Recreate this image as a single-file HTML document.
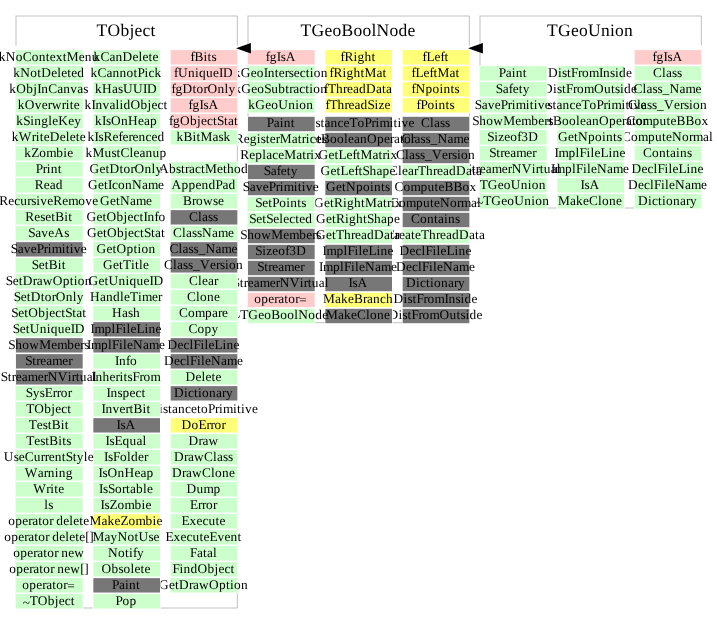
<!DOCTYPE html>
<html><head><meta charset="utf-8"><title>TGeoUnion inheritance</title>
<style>
html,body{margin:0;padding:0;background:#fff;}
svg{display:block;}
text{font-family:"Liberation Serif",serif;fill:#000;text-rendering:geometricPrecision;}
.c{font-size:13.33px;}
.t{font-size:17.5px;}
.b{fill:none;stroke:#c0c0c0;stroke-width:1;}
</style></head><body>
<svg width="717" height="624" viewBox="0 0 717 624">
<rect width="717" height="624" fill="#fff"/>
<rect class="b" x="16" y="16" width="221.33" height="592"/>
<rect fill="#fff" x="15" y="45.6" width="223.33" height="4.5"/>
<rect class="b" x="248" y="16" width="221.33" height="306.67"/>
<rect fill="#fff" x="247" y="45.6" width="223.33" height="4.5"/>
<rect class="b" x="480" y="16" width="221.33" height="192"/>
<rect fill="#fff" x="479" y="45.6" width="223.33" height="4.5"/>
<text class="t" x="96.57 107.57 120.57 129.57 134.57 142.57 150.57" y="36">TObject</text>
<text class="t" x="300.57 311.57 324.57 332.57 341.57 353.57 362.57 371.57 376.57 389.57 398.57 407.57" y="36">TGeoBoolNode</text>
<text class="t" x="547.07 558.07 571.07 579.07 588.07 601.07 610.07 615.07 624.07" y="36">TGeoUnion</text>
<rect fill="#fff" x="633.92" y="193.38" width="68.17" height="15.9"/>
<rect fill="#ccffcc" x="634.67" y="194.13" width="66.67" height="14.4"/>
<text class="c" x="637.9 647.9 651.9 657.9 661.9 665.9 672.9 679.9 685.9 689.9" y="205">Dictionary</text>
<rect fill="#fff" x="633.92" y="177.38" width="68.17" height="15.9"/>
<rect fill="#ccffcc" x="634.67" y="178.13" width="66.67" height="14.4"/>
<text class="c" x="627.9 637.9 643.9 649.9 653.9 660.9 664.9 668.9 674.9 684.9 690.9 700.9" y="189">DeclFileName</text>
<rect fill="#fff" x="633.92" y="161.38" width="68.17" height="15.9"/>
<rect fill="#ccffcc" x="634.67" y="162.13" width="66.67" height="14.4"/>
<text class="c" x="631.4 641.4 647.4 653.4 657.4 664.4 668.4 672.4 678.4 686.4 690.4 697.4" y="173">DeclFileLine</text>
<rect fill="#fff" x="633.92" y="145.38" width="68.17" height="15.9"/>
<rect fill="#ccffcc" x="634.67" y="146.13" width="66.67" height="14.4"/>
<text class="c" x="642.9 651.9 658.9 665.9 669.9 675.9 679.9 686.9" y="157">Contains</text>
<rect fill="#fff" x="633.92" y="129.38" width="68.17" height="15.9"/>
<rect fill="#ccffcc" x="634.67" y="130.13" width="66.67" height="14.4"/>
<text class="c" x="621.9 630.9 637.9 647.9 654.9 661.9 665.9 671.9 681.9 688.9 692.9 702.9 708.9" y="141">ComputeNormal</text>
<rect fill="#fff" x="633.92" y="113.38" width="68.17" height="15.9"/>
<rect fill="#ccffcc" x="634.67" y="114.13" width="66.67" height="14.4"/>
<text class="c" x="626.4 635.4 642.4 652.4 659.4 666.4 670.4 676.4 685.4 694.4 701.4" y="125">ComputeBBox</text>
<rect fill="#fff" x="633.92" y="97.38" width="68.17" height="15.9"/>
<rect fill="#ccffcc" x="634.67" y="98.13" width="66.67" height="14.4"/>
<text class="c" x="627.9 636.9 640.9 646.9 651.9 656.9 663.9 673.9 679.9 683.9 688.9 692.9 699.9" y="109">Class_Version</text>
<rect fill="#fff" x="633.92" y="81.38" width="68.17" height="15.9"/>
<rect fill="#ccffcc" x="634.67" y="82.13" width="66.67" height="14.4"/>
<text class="c" x="633.4 642.4 646.4 652.4 657.4 662.4 669.4 679.4 685.4 695.4" y="93">Class_Name</text>
<rect fill="#fff" x="633.92" y="65.38" width="68.17" height="15.9"/>
<rect fill="#ccffcc" x="634.67" y="66.13" width="66.67" height="14.4"/>
<text class="c" x="652.9 661.9 665.9 671.9 676.9" y="77">Class</text>
<rect fill="#fff" x="633.92" y="49.38" width="68.17" height="15.9"/>
<rect fill="#ffcccc" x="634.67" y="50.13" width="66.67" height="14.4"/>
<text class="c" x="652.4 656.4 663.4 667.4 672.4" y="61">fgIsA</text>
<rect fill="#fff" x="556.58" y="193.38" width="68.17" height="15.9"/>
<rect fill="#ccffcc" x="557.33" y="194.13" width="66.67" height="14.4"/>
<text class="c" x="558.07 570.07 576.07 583.07 589.07 598.07 602.07 609.07 616.07" y="205">MakeClone</text>
<rect fill="#fff" x="556.58" y="177.38" width="68.17" height="15.9"/>
<rect fill="#ccffcc" x="557.33" y="178.13" width="66.67" height="14.4"/>
<text class="c" x="580.57 584.57 589.57" y="189">IsA</text>
<rect fill="#fff" x="556.58" y="161.38" width="68.17" height="15.9"/>
<rect fill="#ccffcc" x="557.33" y="162.13" width="66.67" height="14.4"/>
<text class="c" x="551.07 555.07 565.07 572.07 576.07 583.07 587.07 591.07 597.07 607.07 613.07 623.07" y="173">ImplFileName</text>
<rect fill="#fff" x="556.58" y="145.38" width="68.17" height="15.9"/>
<rect fill="#ccffcc" x="557.33" y="146.13" width="66.67" height="14.4"/>
<text class="c" x="554.57 558.57 568.57 575.57 579.57 586.57 590.57 594.57 600.57 608.57 612.57 619.57" y="157">ImplFileLine</text>
<rect fill="#fff" x="556.58" y="129.38" width="68.17" height="15.9"/>
<rect fill="#ccffcc" x="557.33" y="130.13" width="66.67" height="14.4"/>
<text class="c" x="558.07 568.07 574.07 578.07 588.07 595.07 602.07 606.07 613.07 617.07" y="141">GetNpoints</text>
<rect fill="#fff" x="556.58" y="113.38" width="68.17" height="15.9"/>
<rect fill="#ccffcc" x="557.33" y="114.13" width="66.67" height="14.4"/>
<text class="c" x="533.07 543.07 549.07 553.07 562.07 569.07 576.07 580.07 586.07 592.07 599.07 609.07 616.07 622.07 626.07 632.07 636.07 643.07" y="125">GetBooleanOperator</text>
<rect fill="#fff" x="556.58" y="97.38" width="68.17" height="15.9"/>
<rect fill="#ccffcc" x="557.33" y="98.13" width="66.67" height="14.4"/>
<text class="c" x="533.57 543.57 547.57 552.57 556.57 562.57 569.57 575.57 581.57 589.57 596.57 603.57 607.57 611.57 621.57 625.57 629.57 633.57 640.57" y="109">DistanceToPrimitive</text>
<rect fill="#fff" x="556.58" y="81.38" width="68.17" height="15.9"/>
<rect fill="#ccffcc" x="557.33" y="82.13" width="66.67" height="14.4"/>
<text class="c" x="543.07 553.07 557.07 562.07 566.07 573.07 577.07 584.07 594.07 604.07 611.07 615.07 620.07 624.07 631.07" y="93">DistFromOutside</text>
<rect fill="#fff" x="556.58" y="65.38" width="68.17" height="15.9"/>
<rect fill="#ccffcc" x="557.33" y="66.13" width="66.67" height="14.4"/>
<text class="c" x="548.07 558.07 562.07 567.07 571.07 578.07 582.07 589.07 599.07 603.07 610.07 615.07 619.07 626.07" y="77">DistFromInside</text>
<rect fill="#fff" x="479.25" y="193.38" width="68.17" height="15.9"/>
<rect fill="#ccffcc" x="480" y="194.13" width="66.67" height="14.4"/>
<text class="c" x="476.23 483.23 491.23 501.23 507.23 514.23 524.23 531.23 535.23 542.23" y="206.6 205 205 205 205 205 205 205 205 205">~TGeoUnion</text>
<rect fill="#fff" x="479.25" y="177.38" width="68.17" height="15.9"/>
<rect fill="#ccffcc" x="480" y="178.13" width="66.67" height="14.4"/>
<text class="c" x="479.73 487.73 497.73 503.73 510.73 520.73 527.73 531.73 538.73" y="189">TGeoUnion</text>
<rect fill="#fff" x="479.25" y="161.38" width="68.17" height="15.9"/>
<rect fill="#ccffcc" x="480" y="162.13" width="66.67" height="14.4"/>
<text class="c" x="464.73 471.73 475.73 479.73 485.73 491.73 501.73 507.73 511.73 521.73 531.73 535.73 539.73 543.73 550.73 556.73" y="173">StreamerNVirtual</text>
<rect fill="#fff" x="479.25" y="145.38" width="68.17" height="15.9"/>
<rect fill="#ccffcc" x="480" y="146.13" width="66.67" height="14.4"/>
<text class="c" x="489.23 496.23 500.23 504.23 510.23 516.23 526.23 532.23" y="157">Streamer</text>
<rect fill="#fff" x="479.25" y="129.38" width="68.17" height="15.9"/>
<rect fill="#ccffcc" x="480" y="130.13" width="66.67" height="14.4"/>
<text class="c" x="487.23 494.23 498.23 504.23 510.23 517.23 521.23 528.23" y="141">Sizeof3D</text>
<rect fill="#fff" x="479.25" y="113.38" width="68.17" height="15.9"/>
<rect fill="#ccffcc" x="480" y="114.13" width="66.67" height="14.4"/>
<text class="c" x="472.23 479.23 486.23 493.23 503.23 515.23 521.23 531.23 538.23 544.23 548.23" y="125">ShowMembers</text>
<rect fill="#fff" x="479.25" y="97.38" width="68.17" height="15.9"/>
<rect fill="#ccffcc" x="480" y="98.13" width="66.67" height="14.4"/>
<text class="c" x="474.73 481.73 487.73 494.73 500.73 507.73 511.73 515.73 525.73 529.73 533.73 537.73 544.73" y="109">SavePrimitive</text>
<rect fill="#fff" x="479.25" y="81.38" width="68.17" height="15.9"/>
<rect fill="#ccffcc" x="480" y="82.13" width="66.67" height="14.4"/>
<text class="c" x="495.73 502.73 508.73 512.73 518.73 522.73" y="93">Safety</text>
<rect fill="#fff" x="479.25" y="65.38" width="68.17" height="15.9"/>
<rect fill="#ccffcc" x="480" y="66.13" width="66.67" height="14.4"/>
<text class="c" x="498.73 505.73 511.73 515.73 522.73" y="77">Paint</text>
<rect fill="#fff" x="401.92" y="308.05" width="68.17" height="15.9"/>
<rect fill="#777777" x="402.67" y="308.8" width="66.67" height="14.4"/>
<text class="c" x="388.4 398.4 402.4 407.4 411.4 418.4 422.4 429.4 439.4 449.4 456.4 460.4 465.4 469.4 476.4" y="319">DistFromOutside</text>
<rect fill="#fff" x="401.92" y="292.05" width="68.17" height="15.9"/>
<rect fill="#777777" x="402.67" y="292.8" width="66.67" height="14.4"/>
<text class="c" x="393.4 403.4 407.4 412.4 416.4 423.4 427.4 434.4 444.4 448.4 455.4 460.4 464.4 471.4" y="303">DistFromInside</text>
<rect fill="#fff" x="401.92" y="276.05" width="68.17" height="15.9"/>
<rect fill="#777777" x="402.67" y="276.8" width="66.67" height="14.4"/>
<text class="c" x="405.9 415.9 419.9 425.9 429.9 433.9 440.9 447.9 453.9 457.9" y="287">Dictionary</text>
<rect fill="#fff" x="401.92" y="260.05" width="68.17" height="15.9"/>
<rect fill="#777777" x="402.67" y="260.8" width="66.67" height="14.4"/>
<text class="c" x="395.9 405.9 411.9 417.9 421.9 428.9 432.9 436.9 442.9 452.9 458.9 468.9" y="271">DeclFileName</text>
<rect fill="#fff" x="401.92" y="244.05" width="68.17" height="15.9"/>
<rect fill="#777777" x="402.67" y="244.8" width="66.67" height="14.4"/>
<text class="c" x="399.4 409.4 415.4 421.4 425.4 432.4 436.4 440.4 446.4 454.4 458.4 465.4" y="255">DeclFileLine</text>
<rect fill="#fff" x="401.92" y="228.05" width="68.17" height="15.9"/>
<rect fill="#ccffcc" x="402.67" y="228.8" width="66.67" height="14.4"/>
<text class="c" x="385.9 394.9 398.9 404.9 410.9 414.9 420.9 428.9 435.9 439.9 445.9 451.9 458.9 468.9 474.9 478.9" y="239">CreateThreadData</text>
<rect fill="#fff" x="401.92" y="212.05" width="68.17" height="15.9"/>
<rect fill="#777777" x="402.67" y="212.8" width="66.67" height="14.4"/>
<text class="c" x="410.9 419.9 426.9 433.9 437.9 443.9 447.9 454.9" y="223">Contains</text>
<rect fill="#fff" x="401.92" y="196.05" width="68.17" height="15.9"/>
<rect fill="#777777" x="402.67" y="196.8" width="66.67" height="14.4"/>
<text class="c" x="389.9 398.9 405.9 415.9 422.9 429.9 433.9 439.9 449.9 456.9 460.9 470.9 476.9" y="207">ComputeNormal</text>
<rect fill="#fff" x="401.92" y="180.05" width="68.17" height="15.9"/>
<rect fill="#777777" x="402.67" y="180.8" width="66.67" height="14.4"/>
<text class="c" x="394.4 403.4 410.4 420.4 427.4 434.4 438.4 444.4 453.4 462.4 469.4" y="191">ComputeBBox</text>
<rect fill="#fff" x="401.92" y="164.05" width="68.17" height="15.9"/>
<rect fill="#ccffcc" x="402.67" y="164.8" width="66.67" height="14.4"/>
<text class="c" x="388.9 397.9 401.9 407.9 413.9 417.9 425.9 432.9 436.9 442.9 448.9 455.9 465.9 471.9 475.9" y="175">ClearThreadData</text>
<rect fill="#fff" x="401.92" y="148.05" width="68.17" height="15.9"/>
<rect fill="#777777" x="402.67" y="148.8" width="66.67" height="14.4"/>
<text class="c" x="395.9 404.9 408.9 414.9 419.9 424.9 431.9 441.9 447.9 451.9 456.9 460.9 467.9" y="159">Class_Version</text>
<rect fill="#fff" x="401.92" y="132.05" width="68.17" height="15.9"/>
<rect fill="#777777" x="402.67" y="132.8" width="66.67" height="14.4"/>
<text class="c" x="401.4 410.4 414.4 420.4 425.4 430.4 437.4 447.4 453.4 463.4" y="143">Class_Name</text>
<rect fill="#fff" x="401.92" y="116.05" width="68.17" height="15.9"/>
<rect fill="#777777" x="402.67" y="116.8" width="66.67" height="14.4"/>
<text class="c" x="420.9 429.9 433.9 439.9 444.9" y="127">Class</text>
<rect fill="#fff" x="401.92" y="97.38" width="68.17" height="15.9"/>
<rect fill="#ffff77" x="402.67" y="98.13" width="66.67" height="14.4"/>
<text class="c" x="416.4 420.4 427.4 434.4 438.4 445.4 449.4" y="109">fPoints</text>
<rect fill="#fff" x="401.92" y="81.38" width="68.17" height="15.9"/>
<rect fill="#ffff77" x="402.67" y="82.13" width="66.67" height="14.4"/>
<text class="c" x="411.4 415.4 425.4 432.4 439.4 443.4 450.4 454.4" y="93">fNpoints</text>
<rect fill="#fff" x="401.92" y="65.38" width="68.17" height="15.9"/>
<rect fill="#ffff77" x="402.67" y="66.13" width="66.67" height="14.4"/>
<text class="c" x="411.4 415.4 423.4 429.4 433.4 437.4 449.4 455.4" y="77">fLeftMat</text>
<rect fill="#fff" x="401.92" y="49.38" width="68.17" height="15.9"/>
<rect fill="#ffff77" x="402.67" y="50.13" width="66.67" height="14.4"/>
<text class="c" x="422.4 426.4 434.4 440.4 444.4" y="61">fLeft</text>
<rect fill="#fff" x="324.58" y="308.05" width="68.17" height="15.9"/>
<rect fill="#777777" x="325.33" y="308.8" width="66.67" height="14.4"/>
<text class="c" x="326.07 338.07 344.07 351.07 357.07 366.07 370.07 377.07 384.07" y="319">MakeClone</text>
<rect fill="#fff" x="324.58" y="292.05" width="68.17" height="15.9"/>
<rect fill="#ffff77" x="325.33" y="292.8" width="66.67" height="14.4"/>
<text class="c" x="323.07 335.07 341.07 348.07 354.07 363.07 367.07 373.07 380.07 386.07" y="303">MakeBranch</text>
<rect fill="#fff" x="324.58" y="276.05" width="68.17" height="15.9"/>
<rect fill="#777777" x="325.33" y="276.8" width="66.67" height="14.4"/>
<text class="c" x="348.57 352.57 357.57" y="287">IsA</text>
<rect fill="#fff" x="324.58" y="260.05" width="68.17" height="15.9"/>
<rect fill="#777777" x="325.33" y="260.8" width="66.67" height="14.4"/>
<text class="c" x="319.07 323.07 333.07 340.07 344.07 351.07 355.07 359.07 365.07 375.07 381.07 391.07" y="271">ImplFileName</text>
<rect fill="#fff" x="324.58" y="244.05" width="68.17" height="15.9"/>
<rect fill="#777777" x="325.33" y="244.8" width="66.67" height="14.4"/>
<text class="c" x="322.57 326.57 336.57 343.57 347.57 354.57 358.57 362.57 368.57 376.57 380.57 387.57" y="255">ImplFileLine</text>
<rect fill="#fff" x="324.58" y="228.05" width="68.17" height="15.9"/>
<rect fill="#ccffcc" x="325.33" y="228.8" width="66.67" height="14.4"/>
<text class="c" x="316.07 326.07 332.07 336.07 344.07 351.07 355.07 361.07 367.07 374.07 384.07 390.07 394.07" y="239">GetThreadData</text>
<rect fill="#fff" x="324.58" y="212.05" width="68.17" height="15.9"/>
<rect fill="#ccffcc" x="325.33" y="212.8" width="66.67" height="14.4"/>
<text class="c" x="316.07 326.07 332.07 336.07 345.07 349.07 356.07 363.07 367.07 374.07 381.07 387.07 394.07" y="223">GetRightShape</text>
<rect fill="#fff" x="324.58" y="196.05" width="68.17" height="15.9"/>
<rect fill="#ccffcc" x="325.33" y="196.8" width="66.67" height="14.4"/>
<text class="c" x="314.07 324.07 330.07 334.07 343.07 347.07 354.07 361.07 365.07 377.07 383.07 387.07 391.07 395.07" y="207">GetRightMatrix</text>
<rect fill="#fff" x="324.58" y="180.05" width="68.17" height="15.9"/>
<rect fill="#777777" x="325.33" y="180.8" width="66.67" height="14.4"/>
<text class="c" x="326.07 336.07 342.07 346.07 356.07 363.07 370.07 374.07 381.07 385.07" y="191">GetNpoints</text>
<rect fill="#fff" x="324.58" y="164.05" width="68.17" height="15.9"/>
<rect fill="#ccffcc" x="325.33" y="164.8" width="66.67" height="14.4"/>
<text class="c" x="320.57 330.57 336.57 340.57 348.57 354.57 358.57 362.57 369.57 376.57 382.57 389.57" y="175">GetLeftShape</text>
<rect fill="#fff" x="324.58" y="148.05" width="68.17" height="15.9"/>
<rect fill="#ccffcc" x="325.33" y="148.8" width="66.67" height="14.4"/>
<text class="c" x="318.57 328.57 334.57 338.57 346.57 352.57 356.57 360.57 372.57 378.57 382.57 386.57 390.57" y="159">GetLeftMatrix</text>
<rect fill="#fff" x="324.58" y="132.05" width="68.17" height="15.9"/>
<rect fill="#777777" x="325.33" y="132.8" width="66.67" height="14.4"/>
<text class="c" x="301.07 311.07 317.07 321.07 330.07 337.07 344.07 348.07 354.07 360.07 367.07 377.07 384.07 390.07 394.07 400.07 404.07 411.07" y="143">GetBooleanOperator</text>
<rect fill="#fff" x="324.58" y="116.05" width="68.17" height="15.9"/>
<rect fill="#777777" x="325.33" y="116.8" width="66.67" height="14.4"/>
<text class="c" x="301.57 311.57 315.57 320.57 324.57 330.57 337.57 343.57 349.57 357.57 364.57 371.57 375.57 379.57 389.57 393.57 397.57 401.57 408.57" y="127">DistanceToPrimitive</text>
<rect fill="#fff" x="324.58" y="97.38" width="68.17" height="15.9"/>
<rect fill="#ffff77" x="325.33" y="98.13" width="66.67" height="14.4"/>
<text class="c" x="325.57 329.57 337.57 344.57 348.57 354.57 360.57 367.57 374.57 378.57 384.57" y="109">fThreadSize</text>
<rect fill="#fff" x="324.58" y="81.38" width="68.17" height="15.9"/>
<rect fill="#ffff77" x="325.33" y="82.13" width="66.67" height="14.4"/>
<text class="c" x="324.07 328.07 336.07 343.07 347.07 353.07 359.07 366.07 376.07 382.07 386.07" y="93">fThreadData</text>
<rect fill="#fff" x="324.58" y="65.38" width="68.17" height="15.9"/>
<rect fill="#ffff77" x="325.33" y="66.13" width="66.67" height="14.4"/>
<text class="c" x="329.57 333.57 342.57 346.57 353.57 360.57 364.57 376.57 382.57" y="77">fRightMat</text>
<rect fill="#fff" x="324.58" y="49.38" width="68.17" height="15.9"/>
<rect fill="#ffff77" x="325.33" y="50.13" width="66.67" height="14.4"/>
<text class="c" x="340.57 344.57 353.57 357.57 364.57 371.57" y="61">fRight</text>
<rect fill="#fff" x="247.25" y="308.05" width="68.17" height="15.9"/>
<rect fill="#ccffcc" x="248" y="308.8" width="66.67" height="14.4"/>
<text class="c" x="233.23 240.23 248.23 258.23 264.23 271.23 280.23 287.23 294.23 298.23 308.23 315.23 322.23" y="320.6 319 319 319 319 319 319 319 319 319 319 319 319">~TGeoBoolNode</text>
<rect fill="#fff" x="247.25" y="292.05" width="68.17" height="15.9"/>
<rect fill="#ffcccc" x="248" y="292.8" width="66.67" height="14.4"/>
<text class="c" x="254.23 261.23 268.23 274.23 278.23 284.23 288.23 295.23 299.23" y="303 303 303 303 303 303 303 303 304.2">operator=</text>
<rect fill="#fff" x="247.25" y="276.05" width="68.17" height="15.9"/>
<rect fill="#777777" x="248" y="276.8" width="66.67" height="14.4"/>
<text class="c" x="232.73 239.73 243.73 247.73 253.73 259.73 269.73 275.73 279.73 289.73 299.73 303.73 307.73 311.73 318.73 324.73" y="287">StreamerNVirtual</text>
<rect fill="#fff" x="247.25" y="260.05" width="68.17" height="15.9"/>
<rect fill="#777777" x="248" y="260.8" width="66.67" height="14.4"/>
<text class="c" x="257.23 264.23 268.23 272.23 278.23 284.23 294.23 300.23" y="271">Streamer</text>
<rect fill="#fff" x="247.25" y="244.05" width="68.17" height="15.9"/>
<rect fill="#777777" x="248" y="244.8" width="66.67" height="14.4"/>
<text class="c" x="255.23 262.23 266.23 272.23 278.23 285.23 289.23 296.23" y="255">Sizeof3D</text>
<rect fill="#fff" x="247.25" y="228.05" width="68.17" height="15.9"/>
<rect fill="#777777" x="248" y="228.8" width="66.67" height="14.4"/>
<text class="c" x="240.23 247.23 254.23 261.23 271.23 283.23 289.23 299.23 306.23 312.23 316.23" y="239">ShowMembers</text>
<rect fill="#fff" x="247.25" y="212.05" width="68.17" height="15.9"/>
<rect fill="#ccffcc" x="248" y="212.8" width="66.67" height="14.4"/>
<text class="c" x="249.23 256.23 262.23 266.23 273.23 279.23 283.23 289.23 295.23 299.23 305.23" y="223">SetSelected</text>
<rect fill="#fff" x="247.25" y="196.05" width="68.17" height="15.9"/>
<rect fill="#ccffcc" x="248" y="196.8" width="66.67" height="14.4"/>
<text class="c" x="255.23 262.23 268.23 272.23 279.23 286.23 290.23 297.23 301.23" y="207">SetPoints</text>
<rect fill="#fff" x="247.25" y="180.05" width="68.17" height="15.9"/>
<rect fill="#777777" x="248" y="180.8" width="66.67" height="14.4"/>
<text class="c" x="242.73 249.73 255.73 262.73 268.73 275.73 279.73 283.73 293.73 297.73 301.73 305.73 312.73" y="191">SavePrimitive</text>
<rect fill="#fff" x="247.25" y="164.05" width="68.17" height="15.9"/>
<rect fill="#777777" x="248" y="164.8" width="66.67" height="14.4"/>
<text class="c" x="263.73 270.73 276.73 280.73 286.73 290.73" y="175">Safety</text>
<rect fill="#fff" x="247.25" y="148.05" width="68.17" height="15.9"/>
<rect fill="#ccffcc" x="248" y="148.8" width="66.67" height="14.4"/>
<text class="c" x="240.23 249.23 255.23 262.23 266.23 272.23 278.23 284.23 296.23 302.23 306.23 310.23 314.23" y="159">ReplaceMatrix</text>
<rect fill="#fff" x="247.25" y="132.05" width="68.17" height="15.9"/>
<rect fill="#ccffcc" x="248" y="132.8" width="66.67" height="14.4"/>
<text class="c" x="234.73 243.73 249.73 256.73 260.73 265.73 269.73 275.73 279.73 291.73 297.73 301.73 305.73 309.73 315.73 321.73" y="143">RegisterMatrices</text>
<rect fill="#fff" x="247.25" y="116.05" width="68.17" height="15.9"/>
<rect fill="#777777" x="248" y="116.8" width="66.67" height="14.4"/>
<text class="c" x="266.73 273.73 279.73 283.73 290.73" y="127">Paint</text>
<rect fill="#fff" x="247.25" y="97.38" width="68.17" height="15.9"/>
<rect fill="#ccffcc" x="248" y="98.13" width="66.67" height="14.4"/>
<text class="c" x="248.23 255.23 265.23 271.23 278.23 288.23 295.23 299.23 306.23" y="109">kGeoUnion</text>
<rect fill="#fff" x="247.25" y="81.38" width="68.17" height="15.9"/>
<rect fill="#ccffcc" x="248" y="82.13" width="66.67" height="14.4"/>
<text class="c" x="234.23 241.23 251.23 257.23 264.23 271.23 278.23 285.23 289.23 293.23 299.23 305.23 309.23 313.23 320.23" y="93">kGeoSubtraction</text>
<rect fill="#fff" x="247.25" y="65.38" width="68.17" height="15.9"/>
<rect fill="#ccffcc" x="248" y="66.13" width="66.67" height="14.4"/>
<text class="c" x="233.73 240.73 250.73 256.73 263.73 267.73 274.73 278.73 284.73 288.73 293.73 299.73 305.73 309.73 313.73 320.73" y="77">kGeoIntersection</text>
<rect fill="#fff" x="247.25" y="49.38" width="68.17" height="15.9"/>
<rect fill="#ffcccc" x="248" y="50.13" width="66.67" height="14.4"/>
<text class="c" x="265.73 269.73 276.73 280.73 285.73" y="61">fgIsA</text>
<rect fill="#fff" x="169.92" y="577.38" width="68.17" height="15.9"/>
<rect fill="#ccffcc" x="170.67" y="578.13" width="66.67" height="14.4"/>
<text class="c" x="158.9 168.9 174.9 178.9 188.9 192.9 198.9 208.9 218.9 225.9 229.9 233.9 240.9" y="589">GetDrawOption</text>
<rect fill="#fff" x="169.92" y="561.38" width="68.17" height="15.9"/>
<rect fill="#ccffcc" x="170.67" y="562.13" width="66.67" height="14.4"/>
<text class="c" x="172.4 179.4 183.4 190.4 197.4 207.4 214.4 218.4 224.4 230.4" y="573">FindObject</text>
<rect fill="#fff" x="169.92" y="545.38" width="68.17" height="15.9"/>
<rect fill="#ccffcc" x="170.67" y="546.13" width="66.67" height="14.4"/>
<text class="c" x="189.9 196.9 202.9 206.9 212.9" y="557">Fatal</text>
<rect fill="#fff" x="169.92" y="529.38" width="68.17" height="15.9"/>
<rect fill="#ccffcc" x="170.67" y="530.13" width="66.67" height="14.4"/>
<text class="c" x="165.4 173.4 180.4 186.4 192.4 199.4 203.4 209.4 217.4 224.4 230.4 237.4" y="541">ExecuteEvent</text>
<rect fill="#fff" x="169.92" y="513.38" width="68.17" height="15.9"/>
<rect fill="#ccffcc" x="170.67" y="514.13" width="66.67" height="14.4"/>
<text class="c" x="181.4 189.4 196.4 202.4 208.4 215.4 219.4" y="525">Execute</text>
<rect fill="#fff" x="169.92" y="497.38" width="68.17" height="15.9"/>
<rect fill="#ccffcc" x="170.67" y="498.13" width="66.67" height="14.4"/>
<text class="c" x="189.9 197.9 201.9 205.9 212.9" y="509">Error</text>
<rect fill="#fff" x="169.92" y="481.38" width="68.17" height="15.9"/>
<rect fill="#ccffcc" x="170.67" y="482.13" width="66.67" height="14.4"/>
<text class="c" x="186.4 196.4 203.4 213.4" y="493">Dump</text>
<rect fill="#fff" x="169.92" y="465.38" width="68.17" height="15.9"/>
<rect fill="#ccffcc" x="170.67" y="466.13" width="66.67" height="14.4"/>
<text class="c" x="171.9 181.9 185.9 191.9 201.9 210.9 214.9 221.9 228.9" y="477">DrawClone</text>
<rect fill="#fff" x="169.92" y="449.38" width="68.17" height="15.9"/>
<rect fill="#ccffcc" x="170.67" y="450.13" width="66.67" height="14.4"/>
<text class="c" x="173.9 183.9 187.9 193.9 203.9 212.9 216.9 222.9 227.9" y="461">DrawClass</text>
<rect fill="#fff" x="169.92" y="433.38" width="68.17" height="15.9"/>
<rect fill="#ccffcc" x="170.67" y="434.13" width="66.67" height="14.4"/>
<text class="c" x="188.4 198.4 202.4 208.4" y="445">Draw</text>
<rect fill="#fff" x="169.92" y="417.38" width="68.17" height="15.9"/>
<rect fill="#ffff77" x="170.67" y="418.13" width="66.67" height="14.4"/>
<text class="c" x="181.4 191.4 198.4 206.4 210.4 214.4 221.4" y="429">DoError</text>
<rect fill="#fff" x="169.92" y="401.38" width="68.17" height="15.9"/>
<rect fill="#ffffff" x="170.67" y="402.13" width="66.67" height="14.4"/>
<text class="c" x="148.9 158.9 162.9 167.9 171.9 177.9 184.9 190.9 196.9 200.9 207.9 214.9 218.9 222.9 232.9 236.9 240.9 244.9 251.9" y="413">DistancetoPrimitive</text>
<rect fill="#fff" x="169.92" y="385.38" width="68.17" height="15.9"/>
<rect fill="#777777" x="170.67" y="386.13" width="66.67" height="14.4"/>
<text class="c" x="173.9 183.9 187.9 193.9 197.9 201.9 208.9 215.9 221.9 225.9" y="397">Dictionary</text>
<rect fill="#fff" x="169.92" y="369.38" width="68.17" height="15.9"/>
<rect fill="#ccffcc" x="170.67" y="370.13" width="66.67" height="14.4"/>
<text class="c" x="185.4 195.4 201.4 205.4 211.4 215.4" y="381">Delete</text>
<rect fill="#fff" x="169.92" y="353.38" width="68.17" height="15.9"/>
<rect fill="#777777" x="170.67" y="354.13" width="66.67" height="14.4"/>
<text class="c" x="163.9 173.9 179.9 185.9 189.9 196.9 200.9 204.9 210.9 220.9 226.9 236.9" y="365">DeclFileName</text>
<rect fill="#fff" x="169.92" y="337.38" width="68.17" height="15.9"/>
<rect fill="#777777" x="170.67" y="338.13" width="66.67" height="14.4"/>
<text class="c" x="167.4 177.4 183.4 189.4 193.4 200.4 204.4 208.4 214.4 222.4 226.4 233.4" y="349">DeclFileLine</text>
<rect fill="#fff" x="169.92" y="321.38" width="68.17" height="15.9"/>
<rect fill="#ccffcc" x="170.67" y="322.13" width="66.67" height="14.4"/>
<text class="c" x="188.4 197.4 204.4 211.4" y="333">Copy</text>
<rect fill="#fff" x="169.92" y="305.38" width="68.17" height="15.9"/>
<rect fill="#ccffcc" x="170.67" y="306.13" width="66.67" height="14.4"/>
<text class="c" x="178.9 187.9 194.9 204.9 211.9 217.9 221.9" y="317">Compare</text>
<rect fill="#fff" x="169.92" y="289.38" width="68.17" height="15.9"/>
<rect fill="#ccffcc" x="170.67" y="290.13" width="66.67" height="14.4"/>
<text class="c" x="186.9 195.9 199.9 206.9 213.9" y="301">Clone</text>
<rect fill="#fff" x="169.92" y="273.38" width="68.17" height="15.9"/>
<rect fill="#ccffcc" x="170.67" y="274.13" width="66.67" height="14.4"/>
<text class="c" x="188.9 197.9 201.9 207.9 213.9" y="285">Clear</text>
<rect fill="#fff" x="169.92" y="257.38" width="68.17" height="15.9"/>
<rect fill="#777777" x="170.67" y="258.13" width="66.67" height="14.4"/>
<text class="c" x="163.9 172.9 176.9 182.9 187.9 192.9 199.9 209.9 215.9 219.9 224.9 228.9 235.9" y="269">Class_Version</text>
<rect fill="#fff" x="169.92" y="241.38" width="68.17" height="15.9"/>
<rect fill="#777777" x="170.67" y="242.13" width="66.67" height="14.4"/>
<text class="c" x="169.4 178.4 182.4 188.4 193.4 198.4 205.4 215.4 221.4 231.4" y="253">Class_Name</text>
<rect fill="#fff" x="169.92" y="225.38" width="68.17" height="15.9"/>
<rect fill="#ccffcc" x="170.67" y="226.13" width="66.67" height="14.4"/>
<text class="c" x="172.9 181.9 185.9 191.9 196.9 201.9 211.9 217.9 227.9" y="237">ClassName</text>
<rect fill="#fff" x="169.92" y="209.38" width="68.17" height="15.9"/>
<rect fill="#777777" x="170.67" y="210.13" width="66.67" height="14.4"/>
<text class="c" x="188.9 197.9 201.9 207.9 212.9" y="221">Class</text>
<rect fill="#fff" x="169.92" y="193.38" width="68.17" height="15.9"/>
<rect fill="#ccffcc" x="170.67" y="194.13" width="66.67" height="14.4"/>
<text class="c" x="182.9 191.9 195.9 202.9 212.9 217.9" y="205">Browse</text>
<rect fill="#fff" x="169.92" y="177.38" width="68.17" height="15.9"/>
<rect fill="#ccffcc" x="170.67" y="178.13" width="66.67" height="14.4"/>
<text class="c" x="171.4 181.4 188.4 195.4 201.4 208.4 215.4 222.4 228.4" y="189">AppendPad</text>
<rect fill="#fff" x="169.92" y="161.38" width="68.17" height="15.9"/>
<rect fill="#ccffcc" x="170.67" y="162.13" width="66.67" height="14.4"/>
<text class="c" x="158.9 168.9 175.9 180.9 184.9 188.9 194.9 200.9 204.9 216.9 222.9 226.9 233.9 240.9" y="173">AbstractMethod</text>
<rect fill="#fff" x="169.92" y="129.38" width="68.17" height="15.9"/>
<rect fill="#ccffcc" x="170.67" y="130.13" width="66.67" height="14.4"/>
<text class="c" x="176.4 183.4 192.4 196.4 200.4 212.4 218.4 223.4" y="141">kBitMask</text>
<rect fill="#fff" x="169.92" y="113.38" width="68.17" height="15.9"/>
<rect fill="#ffcccc" x="170.67" y="114.13" width="66.67" height="14.4"/>
<text class="c" x="168.9 172.9 179.9 189.9 196.9 200.9 206.9 212.9 216.9 223.9 227.9 233.9" y="125">fgObjectStat</text>
<rect fill="#fff" x="169.92" y="97.38" width="68.17" height="15.9"/>
<rect fill="#ffcccc" x="170.67" y="98.13" width="66.67" height="14.4"/>
<text class="c" x="188.4 192.4 199.4 203.4 208.4" y="109">fgIsA</text>
<rect fill="#fff" x="169.92" y="81.38" width="68.17" height="15.9"/>
<rect fill="#ffcccc" x="170.67" y="82.13" width="66.67" height="14.4"/>
<text class="c" x="171.4 175.4 182.4 192.4 196.4 203.4 207.4 217.4 224.4 228.4" y="93">fgDtorOnly</text>
<rect fill="#fff" x="169.92" y="65.38" width="68.17" height="15.9"/>
<rect fill="#ffcccc" x="170.67" y="66.13" width="66.67" height="14.4"/>
<text class="c" x="173.9 177.9 187.9 194.9 198.9 205.9 212.9 218.9 222.9" y="77">fUniqueID</text>
<rect fill="#fff" x="169.92" y="49.38" width="68.17" height="15.9"/>
<rect fill="#ffcccc" x="170.67" y="50.13" width="66.67" height="14.4"/>
<text class="c" x="190.4 194.4 203.4 207.4 211.4" y="61">fBits</text>
<rect fill="#fff" x="92.58" y="593.38" width="68.17" height="15.9"/>
<rect fill="#ccffcc" x="93.33" y="594.13" width="66.67" height="14.4"/>
<text class="c" x="115.57 122.57 129.57" y="605">Pop</text>
<rect fill="#fff" x="92.58" y="577.38" width="68.17" height="15.9"/>
<rect fill="#777777" x="93.33" y="578.13" width="66.67" height="14.4"/>
<text class="c" x="112.07 119.07 125.07 129.07 136.07" y="589">Paint</text>
<rect fill="#fff" x="92.58" y="561.38" width="68.17" height="15.9"/>
<rect fill="#ccffcc" x="93.33" y="562.13" width="66.67" height="14.4"/>
<text class="c" x="101.57 111.57 118.57 123.57 130.57 134.57 140.57 144.57" y="573">Obsolete</text>
<rect fill="#fff" x="92.58" y="545.38" width="68.17" height="15.9"/>
<rect fill="#ccffcc" x="93.33" y="546.13" width="66.67" height="14.4"/>
<text class="c" x="108.07 118.07 125.07 129.07 133.07 137.07" y="557">Notify</text>
<rect fill="#fff" x="92.58" y="529.38" width="68.17" height="15.9"/>
<rect fill="#ccffcc" x="93.33" y="530.13" width="66.67" height="14.4"/>
<text class="c" x="92.57 104.57 110.57 117.57 127.57 134.57 138.57 148.57 153.57" y="541">MayNotUse</text>
<rect fill="#fff" x="92.58" y="513.38" width="68.17" height="15.9"/>
<rect fill="#ffff77" x="93.33" y="514.13" width="66.67" height="14.4"/>
<text class="c" x="89.57 101.57 107.57 114.57 120.57 128.57 135.57 145.57 152.57 156.57" y="525">MakeZombie</text>
<rect fill="#fff" x="92.58" y="497.38" width="68.17" height="15.9"/>
<rect fill="#ccffcc" x="93.33" y="498.13" width="66.67" height="14.4"/>
<text class="c" x="100.57 104.57 109.57 117.57 124.57 134.57 141.57 145.57" y="509">IsZombie</text>
<rect fill="#fff" x="92.58" y="481.38" width="68.17" height="15.9"/>
<rect fill="#ccffcc" x="93.33" y="482.13" width="66.67" height="14.4"/>
<text class="c" x="99.07 103.07 108.07 115.07 122.07 126.07 130.07 136.07 143.07 147.07" y="493">IsSortable</text>
<rect fill="#fff" x="92.58" y="465.38" width="68.17" height="15.9"/>
<rect fill="#ccffcc" x="93.33" y="466.13" width="66.67" height="14.4"/>
<text class="c" x="98.57 102.57 107.57 117.57 124.57 134.57 140.57 146.57" y="477">IsOnHeap</text>
<rect fill="#fff" x="92.58" y="449.38" width="68.17" height="15.9"/>
<rect fill="#ccffcc" x="93.33" y="450.13" width="66.67" height="14.4"/>
<text class="c" x="104.07 108.07 113.07 120.07 127.07 131.07 138.07 144.07" y="461">IsFolder</text>
<rect fill="#fff" x="92.58" y="433.38" width="68.17" height="15.9"/>
<rect fill="#ccffcc" x="93.33" y="434.13" width="66.67" height="14.4"/>
<text class="c" x="105.57 109.57 114.57 122.57 129.57 136.57 142.57" y="445">IsEqual</text>
<rect fill="#fff" x="92.58" y="417.38" width="68.17" height="15.9"/>
<rect fill="#777777" x="93.33" y="418.13" width="66.67" height="14.4"/>
<text class="c" x="116.57 120.57 125.57" y="429">IsA</text>
<rect fill="#fff" x="92.58" y="401.38" width="68.17" height="15.9"/>
<rect fill="#ccffcc" x="93.33" y="402.13" width="66.67" height="14.4"/>
<text class="c" x="101.57 105.57 112.57 119.57 125.57 129.57 133.57 142.57 146.57" y="413">InvertBit</text>
<rect fill="#fff" x="92.58" y="385.38" width="68.17" height="15.9"/>
<rect fill="#ccffcc" x="93.33" y="386.13" width="66.67" height="14.4"/>
<text class="c" x="106.57 110.57 117.57 122.57 129.57 135.57 141.57" y="397">Inspect</text>
<rect fill="#fff" x="92.58" y="369.38" width="68.17" height="15.9"/>
<rect fill="#ccffcc" x="93.33" y="370.13" width="66.67" height="14.4"/>
<text class="c" x="91.57 95.57 102.57 109.57 115.57 119.57 123.57 127.57 132.57 139.57 143.57 150.57" y="381">InheritsFrom</text>
<rect fill="#fff" x="92.58" y="353.38" width="68.17" height="15.9"/>
<rect fill="#ccffcc" x="93.33" y="354.13" width="66.67" height="14.4"/>
<text class="c" x="115.07 119.07 126.07 130.07" y="365">Info</text>
<rect fill="#fff" x="92.58" y="337.38" width="68.17" height="15.9"/>
<rect fill="#777777" x="93.33" y="338.13" width="66.67" height="14.4"/>
<text class="c" x="87.07 91.07 101.07 108.07 112.07 119.07 123.07 127.07 133.07 143.07 149.07 159.07" y="349">ImplFileName</text>
<rect fill="#fff" x="92.58" y="321.38" width="68.17" height="15.9"/>
<rect fill="#777777" x="93.33" y="322.13" width="66.67" height="14.4"/>
<text class="c" x="90.57 94.57 104.57 111.57 115.57 122.57 126.57 130.57 136.57 144.57 148.57 155.57" y="333">ImplFileLine</text>
<rect fill="#fff" x="92.58" y="305.38" width="68.17" height="15.9"/>
<rect fill="#ccffcc" x="93.33" y="306.13" width="66.67" height="14.4"/>
<text class="c" x="112.07 122.07 128.07 133.07" y="317">Hash</text>
<rect fill="#fff" x="92.58" y="289.38" width="68.17" height="15.9"/>
<rect fill="#ccffcc" x="93.33" y="290.13" width="66.67" height="14.4"/>
<text class="c" x="90.07 100.07 106.07 113.07 120.07 124.07 130.07 138.07 142.07 152.07 158.07" y="301">HandleTimer</text>
<rect fill="#fff" x="92.58" y="273.38" width="68.17" height="15.9"/>
<rect fill="#ccffcc" x="93.33" y="274.13" width="66.67" height="14.4"/>
<text class="c" x="88.57 98.57 104.57 108.57 118.57 125.57 129.57 136.57 143.57 149.57 153.57" y="285">GetUniqueID</text>
<rect fill="#fff" x="92.58" y="257.38" width="68.17" height="15.9"/>
<rect fill="#ccffcc" x="93.33" y="258.13" width="66.67" height="14.4"/>
<text class="c" x="103.07 113.07 119.07 123.07 131.07 135.07 139.07 143.07" y="269">GetTitle</text>
<rect fill="#fff" x="92.58" y="241.38" width="68.17" height="15.9"/>
<rect fill="#ccffcc" x="93.33" y="242.13" width="66.67" height="14.4"/>
<text class="c" x="96.57 106.57 112.57 116.57 126.57 133.57 137.57 141.57 148.57" y="253">GetOption</text>
<rect fill="#fff" x="92.58" y="225.38" width="68.17" height="15.9"/>
<rect fill="#ccffcc" x="93.33" y="226.13" width="66.67" height="14.4"/>
<text class="c" x="87.07 97.07 103.07 107.07 117.07 124.07 128.07 134.07 140.07 144.07 151.07 155.07 161.07" y="237">GetObjectStat</text>
<rect fill="#fff" x="92.58" y="209.38" width="68.17" height="15.9"/>
<rect fill="#ccffcc" x="93.33" y="210.13" width="66.67" height="14.4"/>
<text class="c" x="86.57 96.57 102.57 106.57 116.57 123.57 127.57 133.57 139.57 143.57 147.57 154.57 158.57" y="221">GetObjectInfo</text>
<rect fill="#fff" x="92.58" y="193.38" width="68.17" height="15.9"/>
<rect fill="#ccffcc" x="93.33" y="194.13" width="66.67" height="14.4"/>
<text class="c" x="100.07 110.07 116.07 120.07 130.07 136.07 146.07" y="205">GetName</text>
<rect fill="#fff" x="92.58" y="177.38" width="68.17" height="15.9"/>
<rect fill="#ccffcc" x="93.33" y="178.13" width="66.67" height="14.4"/>
<text class="c" x="88.07 98.07 104.07 108.07 112.07 118.07 125.07 132.07 142.07 148.07 158.07" y="189">GetIconName</text>
<rect fill="#fff" x="92.58" y="161.38" width="68.17" height="15.9"/>
<rect fill="#ccffcc" x="93.33" y="162.13" width="66.67" height="14.4"/>
<text class="c" x="89.57 99.57 105.57 109.57 119.57 123.57 130.57 134.57 144.57 151.57 155.57" y="173">GetDtorOnly</text>
<rect fill="#fff" x="92.58" y="145.38" width="68.17" height="15.9"/>
<rect fill="#ccffcc" x="93.33" y="146.13" width="66.67" height="14.4"/>
<text class="c" x="85.57 92.57 104.57 111.57 116.57 120.57 129.57 133.57 139.57 145.57 152.57 159.57" y="157">kMustCleanup</text>
<rect fill="#fff" x="92.58" y="129.38" width="68.17" height="15.9"/>
<rect fill="#ccffcc" x="93.33" y="130.13" width="66.67" height="14.4"/>
<text class="c" x="87.57 94.57 98.57 103.57 112.57 118.57 122.57 128.57 132.57 138.57 145.57 151.57 157.57" y="141">kIsReferenced</text>
<rect fill="#fff" x="92.58" y="113.38" width="68.17" height="15.9"/>
<rect fill="#ccffcc" x="93.33" y="114.13" width="66.67" height="14.4"/>
<text class="c" x="95.07 102.07 106.07 111.07 121.07 128.07 138.07 144.07 150.07" y="125">kIsOnHeap</text>
<rect fill="#fff" x="92.58" y="97.38" width="68.17" height="15.9"/>
<rect fill="#ccffcc" x="93.33" y="98.13" width="66.67" height="14.4"/>
<text class="c" x="84.57 91.57 95.57 102.57 109.57 115.57 119.57 123.57 130.57 140.57 147.57 151.57 157.57 163.57" y="109">kInvalidObject</text>
<rect fill="#fff" x="92.58" y="81.38" width="68.17" height="15.9"/>
<rect fill="#ccffcc" x="93.33" y="82.13" width="66.67" height="14.4"/>
<text class="c" x="95.07 102.07 112.07 118.07 123.07 133.07 143.07 147.07" y="93">kHasUUID</text>
<rect fill="#fff" x="92.58" y="65.38" width="68.17" height="15.9"/>
<rect fill="#ccffcc" x="93.33" y="66.13" width="66.67" height="14.4"/>
<text class="c" x="90.57 97.57 106.57 112.57 119.57 126.57 133.57 137.57 144.57 148.57 154.57" y="77">kCannotPick</text>
<rect fill="#fff" x="92.58" y="49.38" width="68.17" height="15.9"/>
<rect fill="#ccffcc" x="93.33" y="50.13" width="66.67" height="14.4"/>
<text class="c" x="93.57 100.57 109.57 115.57 122.57 132.57 138.57 142.57 148.57 152.57" y="61">kCanDelete</text>
<rect fill="#fff" x="15.25" y="593.38" width="68.17" height="15.9"/>
<rect fill="#ccffcc" x="16" y="594.13" width="66.67" height="14.4"/>
<text class="c" x="22.73 29.73 37.73 47.73 54.73 58.73 64.73 70.73" y="606.6 605 605 605 605 605 605 605">~TObject</text>
<rect fill="#fff" x="15.25" y="577.38" width="68.17" height="15.9"/>
<rect fill="#ccffcc" x="16" y="578.13" width="66.67" height="14.4"/>
<text class="c" x="22.23 29.23 36.23 42.23 46.23 52.23 56.23 63.23 67.23" y="589 589 589 589 589 589 589 589 590.2">operator=</text>
<rect fill="#fff" x="15.25" y="561.38" width="68.17" height="15.9"/>
<rect fill="#ccffcc" x="16" y="562.13" width="66.67" height="14.4"/>
<text class="c" x="9.23 16.23 23.23 29.23 33.23 39.23 43.23 50.23 54.23 57.23 64.23 70.23 80.23 84.23" y="573">operator new[]</text>
<rect fill="#fff" x="15.25" y="545.38" width="68.17" height="15.9"/>
<rect fill="#ccffcc" x="16" y="546.13" width="66.67" height="14.4"/>
<text class="c" x="13.23 20.23 27.23 33.23 37.23 43.23 47.23 54.23 58.23 61.23 68.23 74.23" y="557">operator new</text>
<rect fill="#fff" x="15.25" y="529.38" width="68.17" height="15.9"/>
<rect fill="#ccffcc" x="16" y="530.13" width="66.67" height="14.4"/>
<text class="c" x="4.23 11.23 18.23 24.23 28.23 34.23 38.23 45.23 49.23 52.23 59.23 65.23 69.23 75.23 79.23 85.23 89.23" y="541">operator delete[]</text>
<rect fill="#fff" x="15.25" y="513.38" width="68.17" height="15.9"/>
<rect fill="#ccffcc" x="16" y="514.13" width="66.67" height="14.4"/>
<text class="c" x="8.23 15.23 22.23 28.23 32.23 38.23 42.23 49.23 53.23 56.23 63.23 69.23 73.23 79.23 83.23" y="525">operator delete</text>
<rect fill="#fff" x="15.25" y="497.38" width="68.17" height="15.9"/>
<rect fill="#ccffcc" x="16" y="498.13" width="66.67" height="14.4"/>
<text class="c" x="44.23 48.23" y="509">ls</text>
<rect fill="#fff" x="15.25" y="481.38" width="68.17" height="15.9"/>
<rect fill="#ccffcc" x="16" y="482.13" width="66.67" height="14.4"/>
<text class="c" x="33.23 46.23 50.23 54.23 58.23" y="493">Write</text>
<rect fill="#fff" x="15.25" y="465.38" width="68.17" height="15.9"/>
<rect fill="#ccffcc" x="16" y="466.13" width="66.67" height="14.4"/>
<text class="c" x="24.73 37.73 43.73 47.73 54.73 58.73 65.73" y="477">Warning</text>
<rect fill="#fff" x="15.25" y="449.38" width="68.17" height="15.9"/>
<rect fill="#ccffcc" x="16" y="450.13" width="66.67" height="14.4"/>
<text class="c" x="3.73 13.73 18.73 24.73 33.73 40.73 44.73 48.73 54.73 61.73 65.73 72.73 76.73 83.73 87.73" y="461">UseCurrentStyle</text>
<rect fill="#fff" x="15.25" y="433.38" width="68.17" height="15.9"/>
<rect fill="#ccffcc" x="16" y="434.13" width="66.67" height="14.4"/>
<text class="c" x="26.23 34.23 40.23 45.23 49.23 58.23 62.23 66.23" y="445">TestBits</text>
<rect fill="#fff" x="15.25" y="417.38" width="68.17" height="15.9"/>
<rect fill="#ccffcc" x="16" y="418.13" width="66.67" height="14.4"/>
<text class="c" x="28.73 36.73 42.73 47.73 51.73 60.73 64.73" y="429">TestBit</text>
<rect fill="#fff" x="15.25" y="401.38" width="68.17" height="15.9"/>
<rect fill="#ccffcc" x="16" y="402.13" width="66.67" height="14.4"/>
<text class="c" x="26.23 34.23 44.23 51.23 55.23 61.23 67.23" y="413">TObject</text>
<rect fill="#fff" x="15.25" y="385.38" width="68.17" height="15.9"/>
<rect fill="#ccffcc" x="16" y="386.13" width="66.67" height="14.4"/>
<text class="c" x="25.73 32.73 39.73 44.73 52.73 56.73 60.73 67.73" y="397">SysError</text>
<rect fill="#fff" x="15.25" y="369.38" width="68.17" height="15.9"/>
<rect fill="#777777" x="16" y="370.13" width="66.67" height="14.4"/>
<text class="c" x="0.73 7.73 11.73 15.73 21.73 27.73 37.73 43.73 47.73 57.73 67.73 71.73 75.73 79.73 86.73 92.73" y="381">StreamerNVirtual</text>
<rect fill="#fff" x="15.25" y="353.38" width="68.17" height="15.9"/>
<rect fill="#777777" x="16" y="354.13" width="66.67" height="14.4"/>
<text class="c" x="25.23 32.23 36.23 40.23 46.23 52.23 62.23 68.23" y="365">Streamer</text>
<rect fill="#fff" x="15.25" y="337.38" width="68.17" height="15.9"/>
<rect fill="#777777" x="16" y="338.13" width="66.67" height="14.4"/>
<text class="c" x="8.23 15.23 22.23 29.23 39.23 51.23 57.23 67.23 74.23 80.23 84.23" y="349">ShowMembers</text>
<rect fill="#fff" x="15.25" y="321.38" width="68.17" height="15.9"/>
<rect fill="#ccffcc" x="16" y="322.13" width="66.67" height="14.4"/>
<text class="c" x="12.73 19.73 25.73 29.73 39.73 46.73 50.73 57.73 64.73 70.73 74.73" y="333">SetUniqueID</text>
<rect fill="#fff" x="15.25" y="305.38" width="68.17" height="15.9"/>
<rect fill="#ccffcc" x="16" y="306.13" width="66.67" height="14.4"/>
<text class="c" x="11.23 18.23 24.23 28.23 38.23 45.23 49.23 55.23 61.23 65.23 72.23 76.23 82.23" y="317">SetObjectStat</text>
<rect fill="#fff" x="15.25" y="289.38" width="68.17" height="15.9"/>
<rect fill="#ccffcc" x="16" y="290.13" width="66.67" height="14.4"/>
<text class="c" x="13.73 20.73 26.73 30.73 40.73 44.73 51.73 55.73 65.73 72.73 76.73" y="301">SetDtorOnly</text>
<rect fill="#fff" x="15.25" y="273.38" width="68.17" height="15.9"/>
<rect fill="#ccffcc" x="16" y="274.13" width="66.67" height="14.4"/>
<text class="c" x="5.73 12.73 18.73 22.73 32.73 36.73 42.73 52.73 62.73 69.73 73.73 77.73 84.73" y="285">SetDrawOption</text>
<rect fill="#fff" x="15.25" y="257.38" width="68.17" height="15.9"/>
<rect fill="#ccffcc" x="16" y="258.13" width="66.67" height="14.4"/>
<text class="c" x="31.73 38.73 44.73 48.73 57.73 61.73" y="269">SetBit</text>
<rect fill="#fff" x="15.25" y="241.38" width="68.17" height="15.9"/>
<rect fill="#777777" x="16" y="242.13" width="66.67" height="14.4"/>
<text class="c" x="10.73 17.73 23.73 30.73 36.73 43.73 47.73 51.73 61.73 65.73 69.73 73.73 80.73" y="253">SavePrimitive</text>
<rect fill="#fff" x="15.25" y="225.38" width="68.17" height="15.9"/>
<rect fill="#ccffcc" x="16" y="226.13" width="66.67" height="14.4"/>
<text class="c" x="28.23 35.23 41.23 48.23 54.23 64.23" y="237">SaveAs</text>
<rect fill="#fff" x="15.25" y="209.38" width="68.17" height="15.9"/>
<rect fill="#ccffcc" x="16" y="210.13" width="66.67" height="14.4"/>
<text class="c" x="25.23 34.23 40.23 45.23 51.23 55.23 64.23 68.23" y="221">ResetBit</text>
<rect fill="#fff" x="15.25" y="193.38" width="68.17" height="15.9"/>
<rect fill="#ccffcc" x="16" y="194.13" width="66.67" height="14.4"/>
<text class="c" x="-0.77 8.23 14.23 20.23 27.23 31.23 36.23 40.23 47.23 53.23 62.23 68.23 78.23 85.23 92.23" y="205">RecursiveRemove</text>
<rect fill="#fff" x="15.25" y="177.38" width="68.17" height="15.9"/>
<rect fill="#ccffcc" x="16" y="178.13" width="66.67" height="14.4"/>
<text class="c" x="34.73 43.73 49.73 55.73" y="189">Read</text>
<rect fill="#fff" x="15.25" y="161.38" width="68.17" height="15.9"/>
<rect fill="#ccffcc" x="16" y="162.13" width="66.67" height="14.4"/>
<text class="c" x="35.73 42.73 46.73 50.73 57.73" y="173">Print</text>
<rect fill="#fff" x="15.25" y="145.38" width="68.17" height="15.9"/>
<rect fill="#ccffcc" x="16" y="146.13" width="66.67" height="14.4"/>
<text class="c" x="24.23 31.23 39.23 46.23 56.23 63.23 67.23" y="157">kZombie</text>
<rect fill="#fff" x="15.25" y="129.38" width="68.17" height="15.9"/>
<rect fill="#ccffcc" x="16" y="130.13" width="66.67" height="14.4"/>
<text class="c" x="11.73 18.73 31.73 35.73 39.73 43.73 49.73 59.73 65.73 69.73 75.73 79.73" y="141">kWriteDelete</text>
<rect fill="#fff" x="15.25" y="113.38" width="68.17" height="15.9"/>
<rect fill="#ccffcc" x="16" y="114.13" width="66.67" height="14.4"/>
<text class="c" x="16.23 23.23 30.23 34.23 41.23 48.23 52.23 58.23 68.23 74.23" y="125">kSingleKey</text>
<rect fill="#fff" x="15.25" y="97.38" width="68.17" height="15.9"/>
<rect fill="#ccffcc" x="16" y="98.13" width="66.67" height="14.4"/>
<text class="c" x="17.73 24.73 34.73 41.73 47.73 51.73 61.73 65.73 69.73 73.73" y="109">kOverwrite</text>
<rect fill="#fff" x="15.25" y="81.38" width="68.17" height="15.9"/>
<rect fill="#ccffcc" x="16" y="82.13" width="66.67" height="14.4"/>
<text class="c" x="9.23 16.23 26.23 33.23 37.23 41.23 48.23 57.23 63.23 70.23 77.23 83.23" y="93">kObjInCanvas</text>
<rect fill="#fff" x="15.25" y="65.38" width="68.17" height="15.9"/>
<rect fill="#ccffcc" x="16" y="66.13" width="66.67" height="14.4"/>
<text class="c" x="13.23 20.23 30.23 37.23 41.23 51.23 57.23 61.23 67.23 71.23 77.23" y="77">kNotDeleted</text>
<rect fill="#fff" x="15.25" y="49.38" width="68.17" height="15.9"/>
<rect fill="#ccffcc" x="16" y="50.13" width="66.67" height="14.4"/>
<text class="c" x="-1.27 5.73 15.73 22.73 31.73 38.73 45.73 49.73 55.73 62.73 66.73 78.73 84.73 91.73" y="61">kNoContextMenu</text>
<polygon fill="#000" points="236,48.15 250.9,42.9 250.9,53.4"/>
<polygon fill="#000" points="468,48.15 482.9,42.9 482.9,53.4"/>
</svg>
</body></html>
